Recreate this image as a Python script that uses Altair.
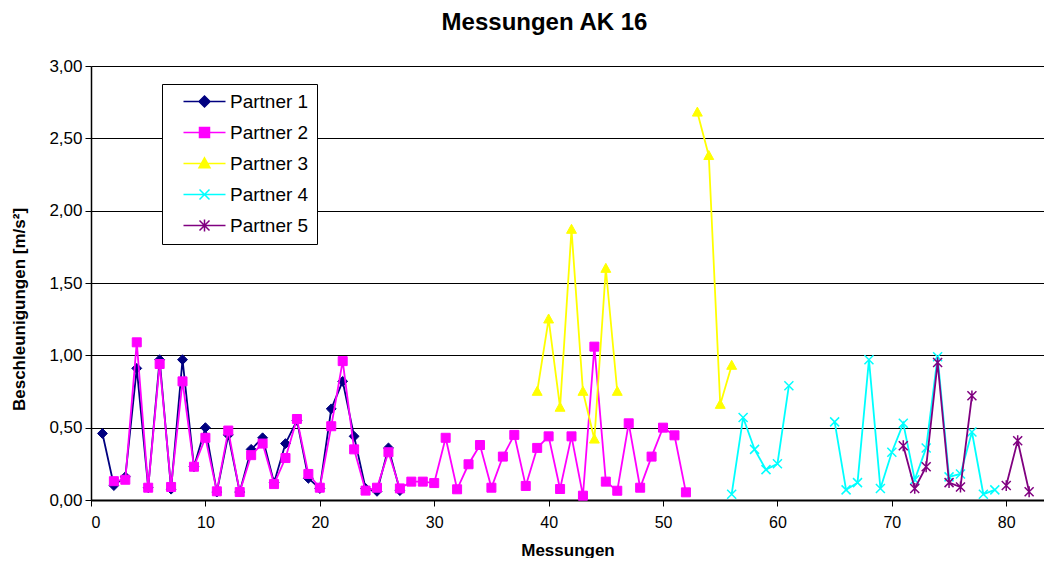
import altair as alt
import pandas as pd

# ---------------- data ----------------
partners = ["Partner 1", "Partner 2", "Partner 3", "Partner 4", "Partner 5"]
colors = ["#000080", "#FF00FF", "#FFFF00", "#00FFFF", "#800080"]

p1_start = 1
p1_values = [0.46, 0.10, 0.16, 0.91, 0.085, 0.97, 0.075, 0.97, 0.23, 0.50,
             0.055, 0.45, 0.055, 0.35, 0.43, 0.12, 0.39, 0.55, 0.15, 0.08,
             0.63, 0.82, 0.44, 0.08, 0.06, 0.36, 0.065]

p2_start = 2
p2_values = [0.13, 0.14, 1.09, 0.085, 0.94, 0.09, 0.82, 0.23, 0.43, 0.06,
             0.48, 0.055, 0.31, 0.39, 0.11, 0.29, 0.56, 0.18, 0.085, 0.51,
             0.96, 0.35, 0.065, 0.085, 0.33, 0.08, 0.127, 0.127, 0.117, 0.43,
             0.074, 0.247, 0.38, 0.085, 0.30, 0.45, 0.097, 0.36, 0.44, 0.076,
             0.44, 0.03, 1.06, 0.127, 0.064, 0.53, 0.085, 0.30, 0.50, 0.447,
             0.053]

p3_start = 39
p3_values = [0.75, 1.25, 0.64, 1.87, 0.75, 0.42, 1.60, 0.75,
             None, None, None, None, None, None,
             2.68, 2.38, 0.66, 0.93]

p4_start = 56
p4_values = [0.04, 0.57, 0.35, 0.21, 0.25, 0.79,
             None, None, None,
             0.54, 0.07, 0.12, 0.97, 0.08, 0.33, 0.53, 0.14, 0.36, 0.99,
             0.16, 0.18, 0.47, 0.04, 0.07]

p5_start = 71
p5_values = [0.375, 0.08, 0.23, 0.95, 0.12, 0.09, 0.72,
             None, None,
             0.10, 0.41, 0.057]

x_ticks = [0, 10, 20, 30, 40, 50, 60, 70, 80]
y_ticks = [0, 0.5, 1.0, 1.5, 2.0, 2.5, 3.0]

series = [
    ("Partner 1", p1_start, p1_values),
    ("Partner 2", p2_start, p2_values),
    ("Partner 3", p3_start, p3_values),
    ("Partner 4", p4_start, p4_values),
    ("Partner 5", p5_start, p5_values),
]

rows = []
for name, start, vals in series:
    seg = 0
    prev_none = False
    for i, v in enumerate(vals):
        if v is None:
            if not prev_none:
                seg += 1
            prev_none = True
            continue
        prev_none = False
        rows.append({"Partner": name, "Messung": start + i, "Wert": v,
                     "Segment": f"{name}-{seg}"})
df = pd.DataFrame(rows)

# ---------------- marker shapes ----------------
marker_paths = [
    "M0,-1.1L1.1,0L0,1.1L-1.1,0Z",                 # diamond
    "M-1,-1L1,-1L1,1L-1,1Z",                       # square
    "M0,-1.15L1.1,0.85L-1.1,0.85Z",                # triangle
    "M-1,-1L1,1M-1,1L1,-1",                        # x
    "M-1,-1L1,1M-1,1L1,-1M0,-1.2L0,1.2",           # asterisk
]
filled_flags = [True, True, True, False, False]
legend_paths = ["M-4.2,0L4.2,0" + p for p in marker_paths]

FONT = "Liberation Sans"

x_enc = alt.X(
    "Messung:Q",
    scale=alt.Scale(domain=[0, 83.3], nice=False, zero=False),
    axis=alt.Axis(
        values=x_ticks, grid=False, title="Messungen",
        labelFont=FONT, labelFontSize=16, labelColor="black",
        labelPadding=8, tickSize=6, tickColor="black", tickWidth=1,
        domainColor="black", domainWidth=2,
        titleFont=FONT, titleFontSize=17, titleFontWeight="bold",
        titleColor="black", titleY=55, titleBaseline="alphabetic",
    ),
)
y_enc = alt.Y(
    "Wert:Q",
    scale=alt.Scale(domain=[0, 3], nice=False, zero=True),
    axis=alt.Axis(
        values=y_ticks, grid=True, gridColor="black", gridWidth=1, gridOpacity=1,
        labelExpr="replace(format(datum.value, '.2f'), '.', ',')",
        title="Beschleunigungen [m/s²]",
        labelFont=FONT, labelFontSize=17, labelColor="black",
        labelPadding=3, tickSize=6, tickColor="black", tickWidth=1,
        domainColor="black", domainWidth=1.5,
        titleFont=FONT, titleFontSize=17, titleFontWeight="bold",
        titleColor="black", titleX=-63, titleY=243, titleAlign="center",
        titleBaseline="bottom", titleAngle=270,
    ),
)

base = alt.Chart(df)
layers = []
for name, color, path, filled in zip(partners, colors, marker_paths, filled_flags):
    sub = base.transform_filter(alt.datum.Partner == name)
    line = sub.mark_line(color=color, strokeWidth=1.8).encode(
        x=x_enc, y=y_enc, detail="Segment:N", order="Messung:Q"
    )
    if filled:
        pts = sub.mark_point(shape=path, size=81, filled=True, fill=color,
                             stroke=color, strokeWidth=1, opacity=1)
    else:
        pts = sub.mark_point(shape=path, size=81, filled=False,
                             stroke=color, strokeWidth=1.5, opacity=1)
    pts = pts.encode(x=x_enc, y=y_enc)
    layers += [line, pts]

leg = alt.Legend(
    title=None, orient="none", legendX=71, legendY=18,
    padding=8, rowPadding=11, strokeColor="black", fillColor="white",
    labelFont=FONT, labelFontSize=19, labelColor="black",
    labelExpr="datum.label + '    '",
    symbolSize=100, symbolStrokeWidth=1.5, symbolOffset=25, labelOffset=16,
    symbolOpacity=1,
)
legend_layer = base.transform_filter("false").mark_point(filled=True, opacity=1).encode(
    x=x_enc, y=y_enc,
    fill=alt.Fill("Partner:N", scale=alt.Scale(domain=partners, range=colors), legend=leg),
    stroke=alt.Stroke("Partner:N", scale=alt.Scale(domain=partners, range=colors), legend=leg),
    shape=alt.Shape("Partner:N", scale=alt.Scale(domain=partners, range=legend_paths), legend=leg),
)
layers.append(legend_layer)

chart = alt.layer(*layers).properties(
    width=953, height=434,
    padding={"left": 83, "top": 58, "right": 0, "bottom": 58},
    autosize=alt.AutoSizeParams(type="none"),
    title=alt.TitleParams(
        "Messungen AK 16", font=FONT, fontSize=24, fontWeight="bold",
        color="black", anchor="middle", dx=-23, offset=22,
    ),
    background="white",
).configure_view(stroke=None)

chart.save("out.html", embed_options={"renderer": "svg", "actions": False})
